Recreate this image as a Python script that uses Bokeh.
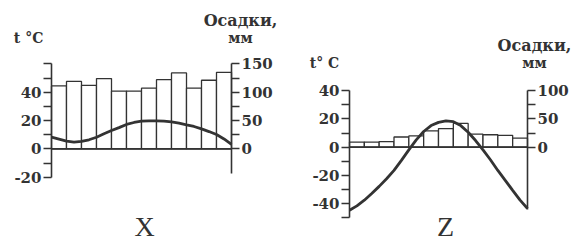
from bokeh.plotting import figure
from bokeh.models import LinearAxis, Range1d, FixedTicker, Label
from bokeh.layouts import row
from bokeh.embed import file_html
from bokeh.resources import INLINE

# ---------------- data ----------------
month_num = [1, 2, 3, 4, 5, 6, 7, 8, 9, 10, 11, 12]

# Chart X
precip_x = [111, 119, 112, 124, 102, 102, 107, 122, 134, 107, 121, 135]
curve_t = [0, 0.5, 1, 1.5, 2, 2.5, 3, 3.5, 4, 4.5, 5, 5.5, 6, 6.5, 7, 7.5,
           8, 8.5, 9, 9.5, 10, 10.5, 11, 11.5, 12]
temp_x = [8.2, 6.8, 5.4, 4.7, 5.2, 6.4, 8.2, 10.6, 12.9, 15.0, 17.2, 18.6,
          19.5, 19.8, 19.8, 19.5, 19.0, 18.1, 16.9, 15.8, 14.1, 12.2, 10.1,
          7.0, 3.1]

# Chart Z
precip_z = [9, 9, 10, 18, 20, 29, 33, 42, 23, 22, 21, 16]
temp_z = [-44.7, -41.6, -37.6, -32.9, -27.8, -22.4, -16.5, -9.4, -1.9, 5.2,
          11.1, 15.3, 17.6, 18.6, 18.1, 15.3, 10.6, 4.7, -1.9, -8.9, -16.5,
          -23.5, -30.6, -37.6, -43.5]

# axis ticks
x_t_ticks = [-20, -10, 0, 10, 20, 30, 40, 50, 60]
x_t_labels = [-20, 0, 20, 40]
x_mm_ticks = [0, 25, 50, 75, 100, 125, 150]
x_mm_labels = [0, 50, 100, 150]
z_t_ticks = [-50, -40, -30, -20, -10, 0, 10, 20, 30, 40]
z_t_labels = [-40, -20, 0, 20, 40]
z_mm_ticks = [0, 25, 50, 75, 100]
z_mm_labels = [0, 50, 100]

INK = "#333333"
TICK_FONT = "DejaVu Serif"
MM_PER_DEG = 2.5
N = len(month_num)


def style_axis(ax, ticks, labels):
    ax.ticker = FixedTicker(ticks=ticks)
    ax.major_label_overrides = {t: ("" if t not in labels else str(t)) for t in ticks}
    ax.axis_line_color = INK
    ax.axis_line_width = 1.6
    ax.major_tick_line_color = INK
    ax.major_tick_line_width = 1.5
    ax.major_tick_in = 0
    ax.major_tick_out = 8
    ax.minor_tick_line_color = None
    ax.major_label_standoff = 2
    ax.major_label_text_font = TICK_FONT
    ax.major_label_text_font_style = "bold"
    ax.major_label_text_font_size = "15px"
    ax.major_label_text_color = INK


def make_chart(width, x_lo, x_hi, t_lo, t_hi, t_bounds, mm_bounds,
               t_ticks, t_labels, mm_ticks, mm_labels, precip, temp):
    p = figure(width=width, height=242, x_range=Range1d(x_lo, x_hi),
               y_range=Range1d(t_lo, t_hi), output_backend="svg",
               toolbar_location=None, x_axis_type=None, y_axis_type=None,
               min_border=0)
    p.outline_line_color = None
    p.extra_y_ranges = {"mm": Range1d(t_lo * MM_PER_DEG, t_hi * MM_PER_DEG)}

    left = LinearAxis(bounds=t_bounds, fixed_location=0)
    style_axis(left, t_ticks, t_labels)
    p.add_layout(left, "left")

    right = LinearAxis(y_range_name="mm", bounds=mm_bounds, fixed_location=N)
    style_axis(right, mm_ticks, mm_labels)
    p.add_layout(right, "right")

    p.vbar(x=[m - 0.5 for m in month_num], width=1, bottom=0, top=precip,
           y_range_name="mm", fill_color="white", line_color=INK,
           line_width=1.3)
    p.segment(x0=[0], y0=[0], x1=[N], y1=[0], line_color=INK, line_width=1.6)
    p.line(curve_t, temp, line_color=INK, line_width=2.8)
    return p


def add_label(p, x, y, text, size, font="DejaVu Serif", style="bold"):
    p.add_layout(Label(x=x, y=y, text=text, text_align="center",
                       text_baseline="middle", text_font=font,
                       text_font_style=style, text_font_size=size,
                       text_color=INK))


# ---- chart X (page x 0..290) ----
p1 = make_chart(290, -3.4, 15.933, -66.1, 104.7, (-20, 60), (-43, 150),
                x_t_ticks, x_t_labels, x_mm_ticks, x_mm_labels,
                precip_x, temp_x)
add_label(p1, -1.53, 77.9, "t °C", "14px")
add_label(p1, 12.6, 90.6, "Осадки,", "16px")
add_label(p1, 12.6, 77.9, "мм", "14px")
add_label(p1, 6.2, -54.5, "X", "28px", font="Liberation Serif", style="normal")

# ---- chart Z (page x 290..572) ----
p2 = make_chart(282, -3.978, 15.034, -67.6, 104.0, (-50, 40), (-111, 100),
                z_t_ticks, z_t_labels, z_mm_ticks, z_mm_labels,
                precip_z, temp_z)
add_label(p2, -1.69, 59.4, "t° C", "14px")
add_label(p2, 12.47, 72.1, "Осадки,", "16px")
add_label(p2, 12.47, 59.4, "мм", "14px")
add_label(p2, 6.47, -55.9, "Z", "28px", font="Liberation Serif", style="normal")

layout = row(p1, p2)
open("out.html", "w").write(file_html(layout, INLINE))
